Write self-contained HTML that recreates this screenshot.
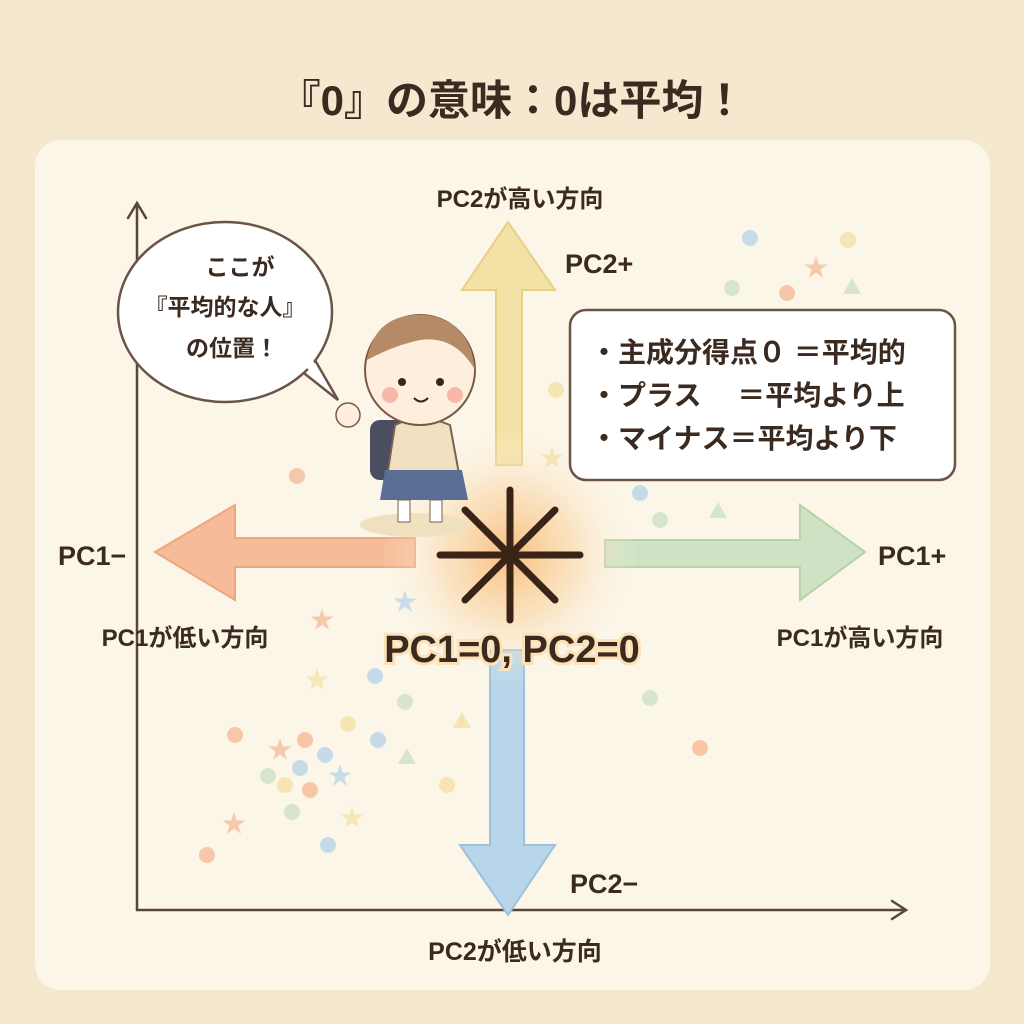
<!DOCTYPE html>
<html><head><meta charset="utf-8"><style>
body{margin:0;width:1024px;height:1024px;background:#f4e9cf;overflow:hidden}
svg{display:block}
text{font-family:"Liberation Sans","Noto Sans CJK JP",sans-serif;font-weight:bold;fill:#3a2a20}
</style></head><body>
<svg width="1024" height="1024" viewBox="0 0 1024 1024">
<defs>
<radialGradient id="g" cx="50%" cy="50%" r="50%">
<stop offset="0" stop-color="#f7b56a" stop-opacity="0.85"/>
<stop offset="0.5" stop-color="#fad6a8" stop-opacity="0.6"/>
<stop offset="1" stop-color="#fbf5e6" stop-opacity="0"/>
</radialGradient>
</defs>
<rect width="1024" height="1024" fill="#f4e9cf"/>
<rect x="35" y="140" width="955" height="850" rx="26" fill="#fbf6e8"/>
<text x="512" y="115" font-size="42" text-anchor="middle">『0』の意味：0は平均！</text>
<g stroke="#5a4638" stroke-width="2.5" fill="none" stroke-linecap="round">
<path d="M137 910 V205 M128 218 L137 203 L146 218"/>
<path d="M137 910 H905 M892 901 L906 910 L892 919"/>
</g>
<path d="M496 465 V290 H462 L508 222 L555 290 H522 V465 Z" fill="#f3e2a6" stroke="#e8cf85" stroke-width="2"/>
<path d="M415 538 H235 V505 L155 552 L235 600 V567 H415 Z" fill="#f6bb98" stroke="#eea67e" stroke-width="2"/>
<path d="M605 540 H800 V505 L865 552 L800 600 V567 H605 Z" fill="#cfe2c4" stroke="#b7d1a9" stroke-width="2"/>
<path d="M490 650 V845 H460 L508 915 L555 845 H524 V650 Z" fill="#b9d5ea" stroke="#9dc0dc" stroke-width="2"/>
<circle cx="510" cy="555" r="130" fill="url(#g)"/>
<g stroke="#3a2418" stroke-width="7" stroke-linecap="round">
<line x1="440" y1="555" x2="580" y2="555"/>
<line x1="510" y1="490" x2="510" y2="620"/>
<line x1="465" y1="510" x2="555" y2="600"/>
<line x1="555" y1="510" x2="465" y2="600"/>
</g>
<text x="520" y="207" font-size="24" text-anchor="middle">PC2が高い方向</text>
<text x="565" y="273" font-size="27">PC2+</text>
<text x="58" y="565" font-size="27">PC1−</text>
<text x="878" y="565" font-size="27">PC1+</text>
<text x="185" y="646" font-size="24" text-anchor="middle">PC1が低い方向</text>
<text x="860" y="646" font-size="24" text-anchor="middle">PC1が高い方向</text>
<text x="512" y="662" font-size="38" text-anchor="middle" stroke="#fde2b8" stroke-width="6" paint-order="stroke">PC1=0, PC2=0</text>
<text x="570" y="893" font-size="27">PC2−</text>
<text x="515" y="960" font-size="25" text-anchor="middle">PC2が低い方向</text>
<rect x="570" y="310" width="385" height="170" rx="16" fill="#fff" stroke="#6b5446" stroke-width="2.5"/>
<text x="590" y="362" font-size="28">・主成分得点０ ＝平均的</text>
<text x="590" y="405" font-size="28">・プラス　 ＝平均より上</text>
<text x="590" y="448" font-size="28">・マイナス＝平均より下</text>
<path d="M300 370 L338 400 L312 355 Z" fill="#fff" stroke="#6b5446" stroke-width="2.5"/>
<ellipse cx="225" cy="312" rx="107" ry="90" fill="#fff" stroke="#6b5446" stroke-width="2.5"/>
<path d="M296 362 L312 358 L320 376 Z" fill="#fff"/>
<text x="240" y="275" font-size="23" text-anchor="middle">ここが</text>
<text x="225" y="315" font-size="23" text-anchor="middle">『平均的な人』</text>
<text x="232" y="356" font-size="23" text-anchor="middle">の位置！</text>
<ellipse cx="415" cy="525" rx="55" ry="12" fill="#efe0c0"/>
<rect x="370" y="420" width="35" height="60" rx="10" fill="#4a4e60"/>
<path d="M385 490 L395 425 Q420 412 450 425 L462 490 Z" fill="#f0e0c0" stroke="#7a6050" stroke-width="2"/>
<path d="M385 470 H462 L468 500 H380 Z" fill="#5a6d94"/>
<rect x="398" y="500" width="12" height="22" fill="#fff" stroke="#7a6050"/>
<rect x="430" y="500" width="12" height="22" fill="#fff" stroke="#7a6050"/>
<circle cx="420" cy="370" r="55" fill="#fdeedd" stroke="#7a5a45" stroke-width="2"/>
<path d="M367 360 Q375 312 425 315 Q470 320 475 370 Q455 335 420 340 Q395 345 367 360Z" fill="#b58a66"/>
<circle cx="402" cy="382" r="4" fill="#3a2418"/><circle cx="440" cy="382" r="4" fill="#3a2418"/>
<circle cx="390" cy="395" r="8" fill="#f7b8a8"/><circle cx="455" cy="395" r="8" fill="#f7b8a8"/>
<path d="M414 398 Q421 405 428 398" stroke="#3a2418" stroke-width="2" fill="none"/>
<circle cx="348" cy="415" r="12" fill="#fdeedd" stroke="#7a5a45" stroke-width="1.5"/>
<g opacity="0.8">
<circle cx="750" cy="238" r="8" fill="#b9d5ea"/><circle cx="848" cy="240" r="8" fill="#f3e2a6"/>
<circle cx="732" cy="288" r="8" fill="#cfe2c4"/><circle cx="787" cy="293" r="8" fill="#f6bb98"/>
<circle cx="640" cy="493" r="8" fill="#b9d5ea"/><circle cx="660" cy="520" r="8" fill="#cfe2c4"/>
<circle cx="297" cy="476" r="8" fill="#f6bb98"/><circle cx="375" cy="676" r="8" fill="#b9d5ea"/>
<circle cx="405" cy="702" r="8" fill="#cfe2c4"/><circle cx="348" cy="724" r="8" fill="#f3e2a6"/>
<circle cx="378" cy="740" r="8" fill="#b9d5ea"/><circle cx="235" cy="735" r="8" fill="#f6bb98"/>
<circle cx="305" cy="740" r="8" fill="#f6bb98"/><circle cx="325" cy="755" r="8" fill="#b9d5ea"/>
<circle cx="300" cy="768" r="8" fill="#b9d5ea"/><circle cx="268" cy="776" r="8" fill="#cfe2c4"/>
<circle cx="285" cy="785" r="8" fill="#f3e2a6"/><circle cx="310" cy="790" r="8" fill="#f6bb98"/>
<circle cx="292" cy="812" r="8" fill="#cfe2c4"/><circle cx="447" cy="785" r="8" fill="#f3e2a6"/>
<circle cx="328" cy="845" r="8" fill="#b9d5ea"/><circle cx="207" cy="855" r="8" fill="#f6bb98"/>
<circle cx="650" cy="698" r="8" fill="#cfe2c4"/><circle cx="700" cy="748" r="8" fill="#f6bb98"/>
<circle cx="556" cy="390" r="8" fill="#f3e2a6"/>
<path d="M852 278 l9 16 h-18 Z" fill="#cfe2c4"/><path d="M718 502 l9 16 h-18 Z" fill="#cfe2c4"/>
<path d="M462 712 l9 16 h-18 Z" fill="#f3e2a6"/><path d="M407 748 l9 16 h-18 Z" fill="#cfe2c4"/>
</g>
<g font-size="24" opacity="0.75">
<text x="804" y="276" style="fill:#f6bb98">★</text><text x="540" y="466" style="fill:#f3e2a6">★</text>
<text x="393" y="610" style="fill:#b9d5ea">★</text><text x="310" y="628" style="fill:#f6bb98">★</text>
<text x="305" y="688" style="fill:#f3e2a6">★</text><text x="268" y="758" style="fill:#f6bb98">★</text>
<text x="328" y="784" style="fill:#b9d5ea">★</text><text x="340" y="826" style="fill:#f3e2a6">★</text>
<text x="222" y="832" style="fill:#f6bb98">★</text>
</g>
</svg>
</body></html>
